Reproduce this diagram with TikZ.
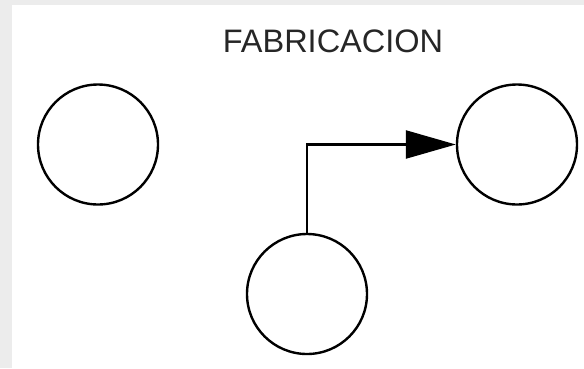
\documentclass[tikz,border=0pt]{standalone}
\usepackage{fontspec}
\setmainfont{Liberation Sans}
\usetikzlibrary{arrows.meta}
\begin{document}
\begin{tikzpicture}[x=1pt,y=-1pt,
  state/.style={circle,draw=black,line width=2.4pt,minimum size=120pt,inner sep=0pt},
  conn/.style={line width=2.4pt,-{Triangle[length=50pt,width=28pt]}},
  title/.style={font=\fontsize{32.5}{38}\selectfont,text=black!85}]
\fill[gray!15] (0,0) rectangle (584,368);
\fill[white] (12,5) rectangle (584,368);
\useasboundingbox (0,0) rectangle (584,368);
\node[title] (t) at (333,41) {FABRICACION};
\node[state] (a) at (98,144.5) {};
\node[state] (b) at (517,144.5) {};
\node[state] (c) at (307,294) {};
\draw[conn] (c.north) |- (b.west);
\end{tikzpicture}
\end{document}
